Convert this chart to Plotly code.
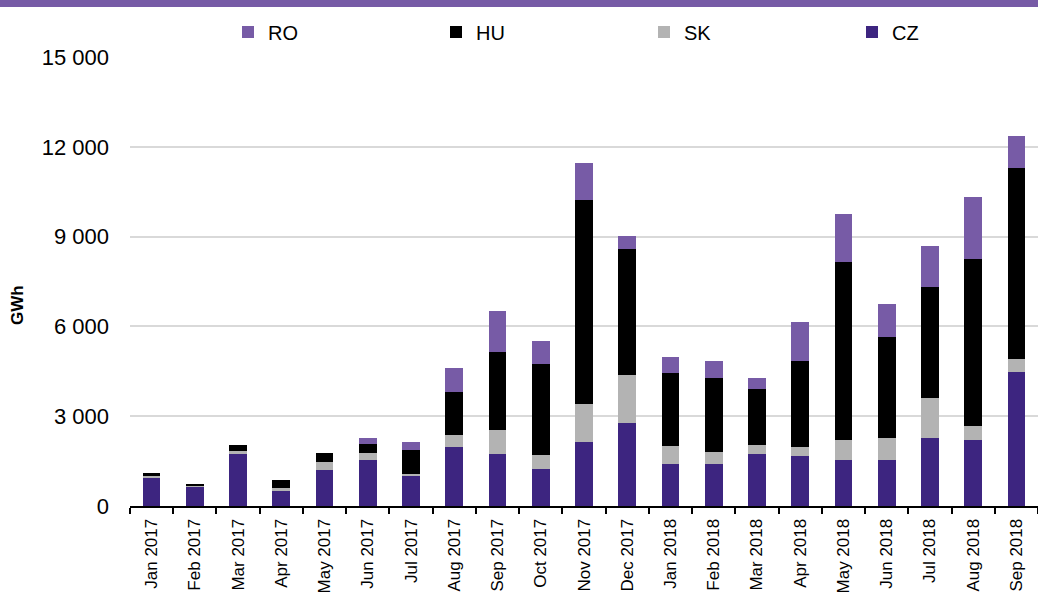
import plotly.graph_objects as go

months = ["Jan 2017", "Feb 2017", "Mar 2017", "Apr 2017", "May 2017", "Jun 2017", "Jul 2017",
          "Aug 2017", "Sep 2017", "Oct 2017", "Nov 2017", "Dec 2017", "Jan 2018", "Feb 2018",
          "Mar 2018", "Apr 2018", "May 2018", "Jun 2018", "Jul 2018", "Aug 2018", "Sep 2018"]

cz = [945, 635, 1725, 500, 1190, 1525, 1025, 1970, 1725, 1225, 2150, 2785, 1390, 1415,
      1750, 1680, 1535, 1535, 2280, 2205, 4485]
sk = [55, 55, 110, 90, 280, 255, 45, 400, 820, 480, 1250, 1580, 610, 390,
      290, 300, 655, 725, 1335, 470, 410]
hu = [110, 45, 200, 265, 310, 300, 790, 1450, 2605, 3030, 6835, 4230, 2430, 2480,
      1860, 2860, 5955, 3385, 3700, 5590, 6400]
ro = [0, 0, 0, 0, 0, 200, 280, 800, 1350, 780, 1215, 425, 545, 555,
      390, 1305, 1615, 1100, 1370, 2050, 1060]

series = [("CZ", cz, "#3D2580"), ("SK", sk, "#B3B3B3"), ("HU", hu, "#000000"), ("RO", ro, "#775BA6")]

fig = go.Figure()
for name, vals, color in series:
    fig.add_trace(go.Bar(x=months, y=vals, name=name, marker=dict(color=color, line=dict(width=0))))

W, H = 1038, 600
L, R, T, B = 130, 0, 57, 94
pw = W - L - R
ph = H - T - B

fig.update_layout(
    width=W, height=H,
    barmode="stack", bargap=0.59,
    plot_bgcolor="white", paper_bgcolor="white",
    margin=dict(l=L, r=R, t=T, b=B, autoexpand=False),
    font=dict(family="Liberation Sans, Arial, sans-serif", color="#000000"),
    separators=". ",
    legend=dict(orientation="h", traceorder="reversed", x=(228 - L) / pw, xanchor="left",
                y=1 + (T - 32) / ph, yanchor="middle", font=dict(size=20),
                entrywidth=163, entrywidthmode="pixels", bgcolor="rgba(0,0,0,0)"),
    xaxis=dict(type="category", showline=True, linecolor="#000000", linewidth=2,
               ticks="outside", tickson="boundaries", ticklen=6, tickwidth=2, tickcolor="#000000",
               tickangle=-90, tickfont=dict(size=17), showgrid=False, ticklabelstandoff=4),
    yaxis=dict(range=[0, 15000], tickvals=[0, 3000, 6000, 9000, 12000, 15000], tickformat=",d",
               showgrid=True, gridcolor="#D9D9D9", gridwidth=2, zeroline=False, showline=False,
               tickfont=dict(size=22), ticks="", ticklabelstandoff=20),
    annotations=[dict(text="<b>GWh</b>", textangle=-90, xref="paper", yref="paper",
                      x=(17 - L) / pw, y=1 - (305 - T) / ph, showarrow=False,
                      font=dict(size=17), xanchor="center", yanchor="middle")],
    shapes=[dict(type="rect", xref="paper", yref="paper", x0=-L / pw, x1=1 + 10 / pw,
                 y0=1 + (T - 7) / ph, y1=1 + (T + 2) / ph, fillcolor="#775BA6", line=dict(width=0),
                 layer="above")],
)

fig.write_html("out.html", config={"displayModeBar": False},
               post_script="document.body.style.margin='0px';document.body.style.padding='0px';")
